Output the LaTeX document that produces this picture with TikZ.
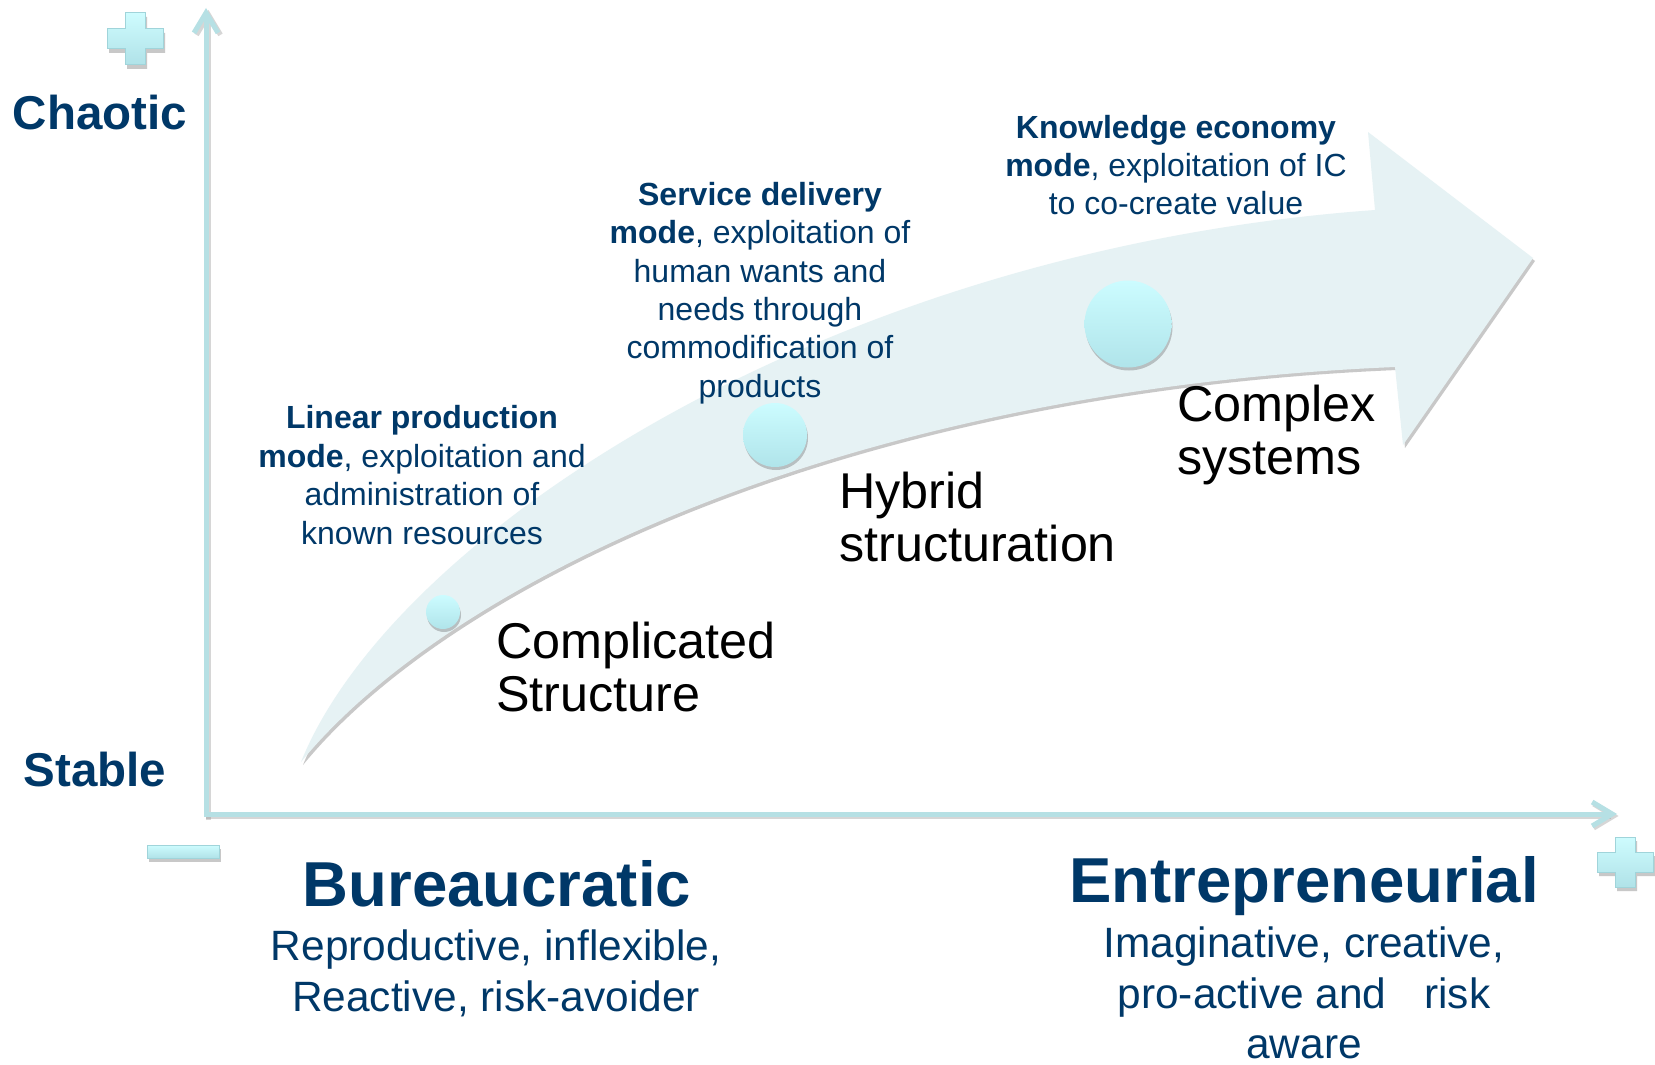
\documentclass[tikz,border=0pt]{standalone}
\usepackage{fontspec}
\setmainfont{Liberation Sans}
\usetikzlibrary{arrows.meta,shadows}
\definecolor{axiscol}{RGB}{182,224,228}
\definecolor{plustop}{RGB}{206,252,254}
\definecolor{plusbot}{RGB}{176,226,232}
\definecolor{plusedge}{RGB}{160,212,218}
\definecolor{bandcol}{RGB}{230,242,244}
\definecolor{txtblue}{RGB}{0,56,104}
\definecolor{circtop}{RGB}{204,252,255}
\definecolor{circbot}{RGB}{176,228,234}
\tikzset{
  axisline/.style={draw=axiscol, line width=5pt, line join=miter},
  axisshadow/.style={draw=black!45, opacity=0.35, line width=5pt, line join=miter},
  plusbox/.style={top color=plustop, bottom color=plusbot, draw=plusedge, line width=1pt,
     drop shadow={shadow xshift=2pt, shadow yshift=-4pt, opacity=0.3, fill=black!70}},
  dotball/.style={circle, inner sep=0pt, top color=circtop, bottom color=circbot,
     drop shadow={shadow xshift=1pt, shadow yshift=-3pt, opacity=0.3, fill=black!70}},
  bandshape/.style={fill=bandcol,
     drop shadow={shadow xshift=2pt, shadow yshift=-3pt, opacity=0.3, fill=black!70}},
  axislabel/.style={inner sep=0pt, text=txtblue, font=\fontsize{47.5}{57}\selectfont\bfseries},
  poletitle/.style={inner sep=0pt, text=txtblue, font=\fontsize{63.5}{76}\selectfont\bfseries},
  poletext/.style={inner sep=0pt, text=txtblue, align=center, font=\fontsize{42.4}{50.7}\selectfont},
  modetext/.style={inner sep=0pt, text=txtblue, align=center, font=\fontsize{32}{38.4}\selectfont},
  stagetext/.style={inner sep=0pt, text=black, align=left, anchor=west, font=\fontsize{50.3}{52.5}\selectfont},
}
\begin{document}
\begin{tikzpicture}[x=1pt,y=-1pt]
\useasboundingbox (0,0) rectangle (1655,1065);
\fill[white] (0,0) rectangle (1655,1065);

% big curved arrow
\path[bandshape] (301,762) .. controls (390,540) and (820,250) .. (1375,210)
  -- (1368,132) -- (1533,258) -- (1403,445) -- (1395,367)
  .. controls (850,390) and (450,580) .. (301,762) -- cycle;

% axes
\draw[axisshadow, -{Straight Barb[length=20pt,width=24pt]}] ([shift={(1.5,2)}]207,818) -- (208.5,10);
\draw[axisshadow, -{Straight Barb[length=20pt,width=24pt]}] ([shift={(1.5,2)}]204,814) -- (1618.5,816);
\coordinate (origin) at (206,814);
\coordinate (ytip) at (206,8);
\coordinate (xtip) at (1617,814);
\draw[axisline, {Straight Barb[length=20pt,width=24pt]}-{Straight Barb[length=20pt,width=24pt]}]
  (ytip) -- (origin) -- (xtip);

% plus / minus signs
\begin{scope}[shift={(135,39)}]
\path[plusbox] (-10,-26) -- (10,-26) -- (10,-10) -- (28,-10) -- (28,10) -- (10,10) -- (10,26)
  -- (-10,26) -- (-10,10) -- (-28,10) -- (-28,-10) -- (-10,-10) -- cycle;
\end{scope}
\begin{scope}[shift={(1625,862)}]
\path[plusbox] (-10,-25) -- (10,-25) -- (10,-10) -- (28,-10) -- (28,10) -- (10,10) -- (10,25)
  -- (-10,25) -- (-10,10) -- (-28,10) -- (-28,-10) -- (-10,-10) -- cycle;
\end{scope}
\path[plusbox] (147,845) rectangle (219,858);

% circles
\node[dotball, minimum size=34pt] (c1) at (443,612) {};
\node[dotball, minimum size=64pt] (c2) at (775,435) {};
\node[dotball, minimum size=87pt] (c3) at (1128,324) {};

% axis labels
\node[axislabel] (chaotic) at (100,113) {Chaotic};
\node[axislabel] (stable) at (95,770) {Stable};

% poles
\node[poletitle] (bureau) at (497,884) {Bureaucratic};
\node[poletext] (bureautxt) at (496,973) {Reproductive, inflexible,\\ Reactive, risk-avoider};
\node[poletitle] (entre) at (1304,886) {Entrepreneurial};
\node[poletext] (entretxt) at (1304,993) {Imaginative, creative,\\ pro-active and\hspace{38pt}risk\\ aware};

% mode texts
\node[modetext] (linear) at (422,475) {\textbf{Linear production}\\ \textbf{mode}, exploitation and\\ administration of\\ known resources};
\node[modetext] (service) at (760,293) {\textbf{Service delivery}\\ \textbf{mode}, exploitation of\\ human wants and\\ needs through\\ commodification of\\ products};
\node[modetext] (knowledge) at (1176,165) {\textbf{Knowledge economy}\\ \textbf{mode}, exploitation of IC\\ to co-create value};

% stage texts
\node[stagetext] (complicated) at (496,667) {Complicated\\ Structure};
\node[stagetext] (hybrid) at (839,517) {Hybrid\\ structuration};
\node[stagetext] (complex) at (1177,435) {Complex\\ systems};
\end{tikzpicture}
\end{document}
